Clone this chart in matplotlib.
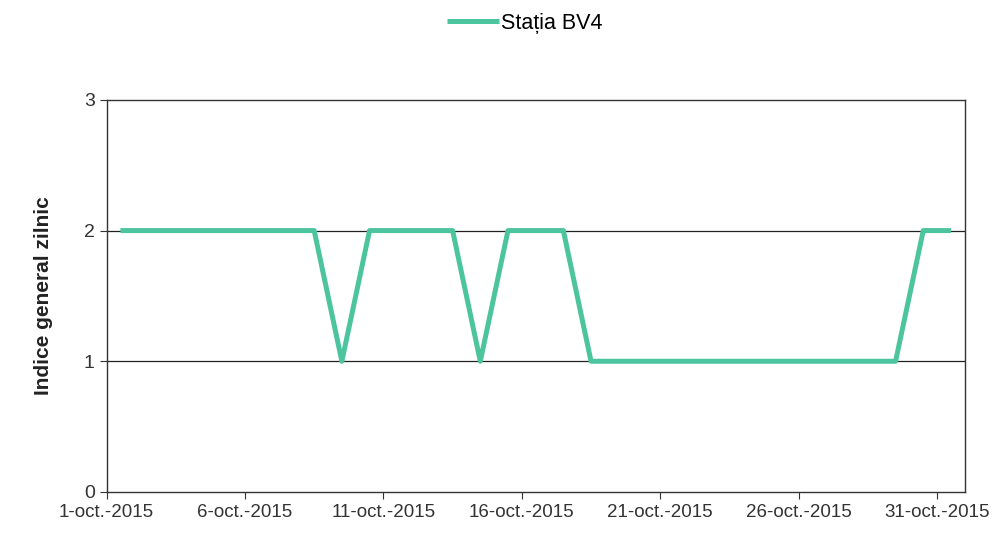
import matplotlib
matplotlib.use("Agg")
import matplotlib.pyplot as plt
import matplotlib.dates as mdates
import numpy as np
import datetime as dt

plt.rcParams['font.family'] = ['Liberation Sans', 'DejaVu Sans']

days = list(range(1, 32))
values = [2, 2, 2, 2, 2, 2, 2, 2, 1, 2, 2, 2, 2, 1, 2, 2, 2,
          1, 1, 1, 1, 1, 1, 1, 1, 1, 1, 1, 1, 2, 2]
tick_days = [1, 6, 11, 16, 21, 26, 31]
tick_labels = [f"{d}-oct.-2015" for d in tick_days]
series_name = "Stația BV4"
y_label = "Indice general zilnic"

fig = plt.figure(figsize=(10.05, 5.4), dpi=100)
ax = fig.add_axes([0.106, 0.089, 0.854, 0.726])

x = [mdates.date2num(dt.datetime(2015, 10, d)) + 0.5 for d in days]
ax.plot(x, values, color='#4CC59E', lw=3.6, label=series_name,
        solid_joinstyle='round', solid_capstyle='butt')

xmin = mdates.date2num(dt.datetime(2015, 10, 1))
ax.set_xlim(xmin, xmin + 31)
ax.set_ylim(0, 3)
ax.set_yticks([0, 1, 2, 3])
ax.set_xticks([mdates.date2num(dt.datetime(2015, 10, d)) for d in tick_days])
ax.set_xticklabels(tick_labels)
ax.tick_params(axis='y', labelsize=14, direction='out', length=5, color='#333333', labelcolor='#333333')
ax.tick_params(axis='x', labelsize=13.5, direction='out', length=5, color='#333333', labelcolor='#333333')
for yv in [1, 2]:
    ax.axhline(yv, color='#222222', lw=0.9, zorder=1)
for s in ax.spines.values():
    s.set_color('#333333')
    s.set_linewidth(1.0)
ax.set_ylabel(y_label, fontsize=15, fontweight='bold', color='#222222', labelpad=22)

fig.legend(handles=ax.get_lines(), labels=[series_name], loc='upper center',
           bbox_to_anchor=(0.522, 1.012), frameon=False, fontsize=15.5,
           handlelength=2.4, handletextpad=0.1)

fig.savefig("out.png", dpi=100, facecolor='white')
